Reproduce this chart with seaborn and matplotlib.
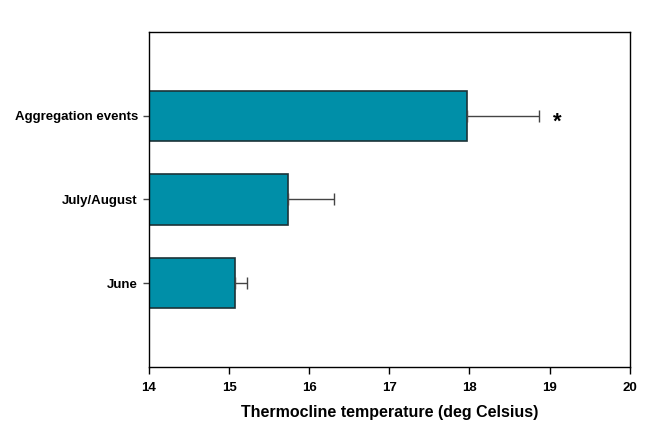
import matplotlib
matplotlib.use("Agg")
import matplotlib.pyplot as plt
import numpy as np
import pandas as pd
import seaborn as sns

# Data
periods = ["Aggregation events", "July/August", "June"]
mean_temp = [17.97, 15.74, 15.08]
upper_err = [0.90, 0.57, 0.14]

df = pd.DataFrame({"period": periods, "temp": mean_temp})

sns.set_style("white")
plt.rcParams["font.family"] = ["Liberation Sans", "DejaVu Sans"]
plt.rcParams["text.color"] = "black"
plt.rcParams["axes.labelcolor"] = "black"
plt.rcParams["xtick.color"] = "black"
plt.rcParams["ytick.color"] = "black"

fig = plt.figure(figsize=(6.56, 4.26), dpi=100)
ax = fig.add_axes([0.227, 0.1385, 0.733, 0.7865])

sns.barplot(data=df, x="temp", y="period", orient="h", color="#008FA8",
            saturation=1, width=0.6, edgecolor="#1c3338", linewidth=1.2, ax=ax)

# one-sided error bars (upper only)
ax.errorbar(mean_temp, np.arange(len(periods)),
            xerr=[np.zeros(len(periods)), upper_err],
            fmt="none", ecolor="#444444", elinewidth=1, capsize=4, capthick=1)

# significance marker
ax.text(19.1, 0.08, "*", ha="center", va="center", fontsize=16, fontweight="bold")

ax.set_xlim(14, 20)
ax.set_ylim(3, -1)
ax.set_xticks(range(14, 21))
ax.set_xlabel("Thermocline temperature (deg Celsius)", fontsize=11.5,
              fontweight="bold", labelpad=8)
ax.set_ylabel("")

for s in ax.spines.values():
    s.set_visible(True)
    s.set_color("black")
    s.set_linewidth(1)

ax.tick_params(axis="x", direction="out", length=5, width=1,
               labelsize=9.5, pad=6, bottom=True)
ax.tick_params(axis="y", direction="out", length=4, width=1, color="#444444",
               labelsize=9.5, pad=4, left=True)
for lab in ax.get_xticklabels() + ax.get_yticklabels():
    lab.set_fontweight("bold")

fig.savefig("out.png", dpi=100)
